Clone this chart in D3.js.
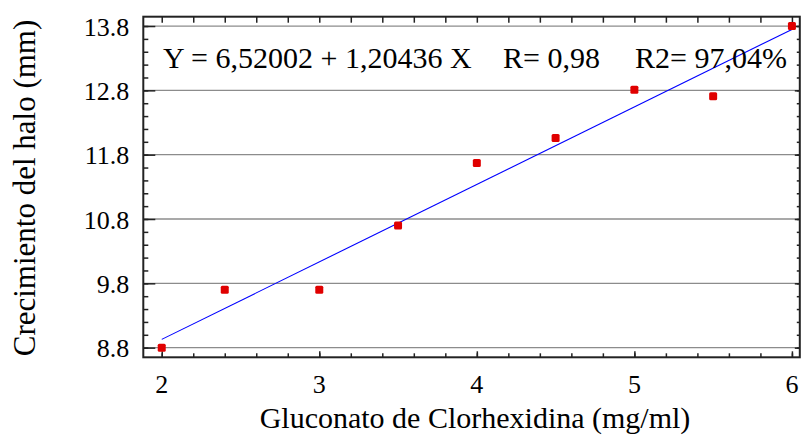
<!DOCTYPE html>
<html>
<head>
<meta charset="utf-8">
<script src="https://cdn.jsdelivr.net/npm/d3@7"></script>
<style>
  body { margin: 0; background: #fff; }
  svg { display: block; font-family: "Liberation Serif", "Times New Roman", serif; }
</style>
</head>
<body>
<div id="graf"></div>
<script>
// datos
const concentracion = [2, 2.4, 3, 3.5, 4, 4.5, 5, 5.5, 6]
const crecimiento = [8.8, 9.7, 9.7, 10.7, 11.67, 12.06, 12.81, 12.71, 13.8]
const xTicks = [2, 3, 4, 5, 6]
const yTicks = [8.8, 9.8, 10.8, 11.8, 12.8, 13.8]
const intercepto = 6.52002
const pendiente = 1.20436
const textoEcuacion = ["Y = 6,52002 + 1,20436 X", "R= 0,98", "R2= 97,04%"]

const width = 801
const height = 439
const margin = {top: 16.7, right: 1.2, bottom: 81.7, left: 143.3}

const data = concentracion.map((c, i) => ({x: c, y: crecimiento[i]}))

const x = d3.scaleLinear()
    .domain([1.883, 6.05])
    .range([margin.left, width - margin.right])

const y = d3.scaleLinear()
    .domain([8.65, 13.945])
    .range([height - margin.bottom, margin.top])

const xMinor = d3.range(2, 6.01, 0.2).map(v => +v.toFixed(1))
const yMinor = d3.range(8.8, 13.95, 0.2).map(v => +v.toFixed(1))

const svg = d3.select("#graf").append("svg")
    .attr("width", width)
    .attr("height", height)
    .attr("viewBox", [0, 0, width, height])

// lineas de cuadricula
svg.append("g")
    .attr("stroke", "#8c8c8c")
    .attr("stroke-width", 1.3)
  .selectAll("line")
  .data(yTicks)
  .join("line")
    .attr("x1", margin.left)
    .attr("x2", width - margin.right)
    .attr("y1", d => y(d))
    .attr("y2", d => y(d))

const axisStyle = g => g
    .call(g => g.select(".domain").remove())
    .call(g => g.selectAll(".tick line").attr("stroke", "#222").attr("stroke-width", 1.5))

// eje izquierdo (marcas hacia dentro)
svg.append("g")
    .attr("transform", `translate(${margin.left},0)`)
    .call(d3.axisLeft(y).tickValues(yMinor).tickSize(-5).tickFormat(""))
    .call(axisStyle)
svg.append("g")
    .attr("transform", `translate(${margin.left},0)`)
    .call(d3.axisLeft(y).tickValues(yTicks).tickSize(-12).tickFormat(""))
    .call(axisStyle)

// eje derecho
svg.append("g")
    .attr("transform", `translate(${width - margin.right},0)`)
    .call(d3.axisRight(y).tickValues(yMinor).tickSize(-3).tickFormat(""))
    .call(axisStyle)
svg.append("g")
    .attr("transform", `translate(${width - margin.right},0)`)
    .call(d3.axisRight(y).tickValues(yTicks).tickSize(-5).tickFormat(""))
    .call(axisStyle)

// eje inferior
svg.append("g")
    .attr("transform", `translate(0,${height - margin.bottom})`)
    .call(d3.axisBottom(x).tickValues(xMinor).tickSize(-4).tickFormat(""))
    .call(axisStyle)
svg.append("g")
    .attr("transform", `translate(0,${height - margin.bottom})`)
    .call(d3.axisBottom(x).tickValues(xTicks).tickSize(-6).tickFormat(""))
    .call(axisStyle)

// eje superior
svg.append("g")
    .attr("transform", `translate(0,${margin.top})`)
    .call(d3.axisTop(x).tickValues(xMinor).tickSize(-6).tickFormat(""))
    .call(axisStyle)

// marco
svg.append("rect")
    .attr("x", margin.left)
    .attr("y", margin.top)
    .attr("width", width - margin.right - margin.left)
    .attr("height", height - margin.bottom - margin.top)
    .attr("fill", "none")
    .attr("stroke", "#222")
    .attr("stroke-width", 2)

// etiquetas de los ejes
svg.append("g")
    .attr("font-size", 26)
    .attr("text-anchor", "end")
  .selectAll("text")
  .data(yTicks)
  .join("text")
    .attr("x", margin.left - 14)
    .attr("y", d => y(d) + 9.5)
    .text(d => d.toFixed(1))

svg.append("g")
    .attr("font-size", 26)
    .attr("text-anchor", "middle")
  .selectAll("text")
  .data(xTicks)
  .join("text")
    .attr("x", d => x(d))
    .attr("y", 393)
    .text(d => d)

svg.append("text")
    .attr("x", 475)
    .attr("y", 428)
    .attr("font-size", 30)
    .attr("text-anchor", "middle")
    .text("Gluconato de Clorhexidina (mg/ml)")

svg.append("text")
    .attr("transform", `translate(35,188) rotate(-90)`)
    .attr("font-size", 31)
    .attr("text-anchor", "middle")
    .text("Crecimiento del halo (mm)")

// recta de regresion
const line = d3.line().x(d => x(d)).y(d => y(intercepto + pendiente * d))
svg.append("path")
    .attr("fill", "none")
    .attr("stroke", "#0000ff")
    .attr("stroke-width", 1.1)
    .attr("d", line(d3.extent(concentracion)))

// ecuacion
const posEcuacion = [163, 503, 635]
svg.append("g")
    .attr("font-size", 30)
  .selectAll("text")
  .data(textoEcuacion)
  .join("text")
    .attr("x", (d, i) => posEcuacion[i])
    .attr("y", 68)
    .text(d => d)

// puntos
svg.append("g")
    .attr("fill", "#e00000")
  .selectAll("rect")
  .data(data)
  .join("rect")
    .attr("x", d => x(d.x) - 4)
    .attr("y", d => y(d.y) - 4)
    .attr("width", 8)
    .attr("height", 8)
    .attr("rx", 1.5)
</script>
</body>
</html>
